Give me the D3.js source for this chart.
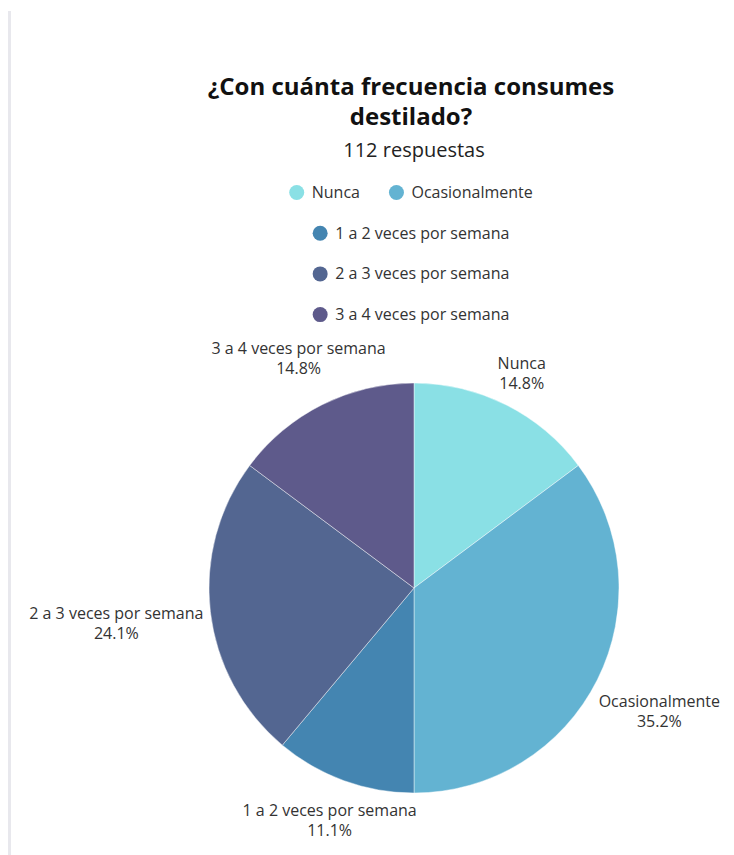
<!DOCTYPE html>
<html>
<head>
<meta charset="utf-8">
<script src="https://cdn.jsdelivr.net/npm/d3@7/dist/d3.min.js"></script>
<style>
  html, body { margin: 0; padding: 0; background: #fff; }
  svg { display: block; font-family: "Open Sans", "Noto Sans", sans-serif; }
</style>
</head>
<body>
<svg id="chart" width="734" height="855"></svg>
<script>
// Survey answers (share of responses, %)
const categories = [
  "Nunca",
  "Ocasionalmente",
  "1 a 2 veces por semana",
  "2 a 3 veces por semana",
  "3 a 4 veces por semana"
];
const values = [14.8, 35.2, 11.1, 24.1, 14.8];
const colors = ["#8ae0e5", "#63b3d2", "#4485b1", "#536691", "#5e5a8b"];
const titleLines = ["¿Con cuánta frecuencia consumes", "destilado?"];
const subtitle = "112 respuestas";

const W = 734, H = 855;
const cx = 414, cy = 588, R = 205;
const svg = d3.select("#chart");

// left card edge
svg.append("rect")
  .attr("x", 8).attr("y", 11).attr("width", 3).attr("height", H - 11)
  .attr("fill", "#e8e8ed");

// title block
const title = svg.append("text")
  .attr("text-anchor", "middle")
  .attr("font-size", 24).attr("font-weight", 700).attr("fill", "#111");
titleLines.forEach((t, i) => {
  title.append("tspan").attr("x", 411).attr("y", 95 + i * 30).text(t);
});
svg.append("text")
  .attr("x", 414).attr("y", 157)
  .attr("text-anchor", "middle")
  .attr("font-size", 20).attr("fill", "#222")
  .text(subtitle);

// legend, packed into centred rows
const color = d3.scaleOrdinal().domain(categories).range(colors);
const legendFont = 16, dotR = 7.5, dotGap = 15, itemGap = 29, maxRow = 320;
const measure = svg.append("text").attr("font-size", legendFont).attr("visibility", "hidden");
const items = categories.map(c => {
  measure.text(c);
  const tw = measure.node().getComputedTextLength();
  return { name: c, tw, w: dotR + dotGap + tw };
});
measure.remove();
const rows = [];
items.forEach(it => {
  const row = rows[rows.length - 1];
  if (row) {
    const w = d3.sum(row, d => d.w) + itemGap * row.length + it.w;
    if (w <= maxRow) { row.push(it); return; }
  }
  rows.push([it]);
});
const legend = svg.append("g");
rows.forEach((row, ri) => {
  const total = d3.sum(row, d => d.w) + itemGap * (row.length - 1);
  let x = 411 - total / 2;
  const y = 192.5 + ri * 40.7;
  row.forEach(it => {
    const g = legend.append("g");
    g.append("circle").attr("cx", x + dotR).attr("cy", y).attr("r", dotR)
      .attr("fill", color(it.name));
    g.append("text").attr("x", x + dotR + dotGap).attr("y", y + 5.5)
      .attr("font-size", legendFont).attr("fill", "#333").text(it.name);
    x += it.w + itemGap;
  });
});

// pie
const data = categories.map((c, i) => ({ name: c, value: values[i] }));
const pie = d3.pie().sort(null).value(d => d.value);
const arc = d3.arc().innerRadius(0).outerRadius(R);
const arcs = pie(data);
const g = svg.append("g").attr("transform", `translate(${cx},${cy})`);
g.selectAll("path").data(arcs).join("path")
  .attr("d", arc)
  .attr("fill", d => color(d.data.name))
  .attr("stroke", "rgba(255,255,255,0.55)")
  .attr("stroke-width", 0.8);

// outside labels: box centred on the mid-angle ray, nearest edge kept clear of the rim
const labelGap = 6, lineH = 20;
arcs.forEach(d => {
  const lbl = g.append("text")
    .attr("text-anchor", "middle")
    .attr("font-size", legendFont).attr("fill", "#333");
  lbl.append("tspan").attr("x", 0).attr("dy", 0).text(d.data.name);
  lbl.append("tspan").attr("x", 0).attr("dy", lineH).text(d.data.value.toFixed(1) + "%");
  const bb = lbl.node().getBBox();
  const ox = bb.x + bb.width / 2, oy = bb.y + bb.height / 2;
  const hw = bb.width / 2, hh = bb.height / 2;
  const a = (d.startAngle + d.endAngle) / 2;
  const ux = Math.sin(a), uy = -Math.cos(a);
  const distToBox = (px, py) => {
    const dx = Math.max(0, Math.abs(px) - hw);
    const dy = Math.max(0, Math.abs(py) - hh);
    return Math.hypot(dx, dy);
  };
  let lo = 0, hi = 600;
  for (let k = 0; k < 50; k++) {
    const mid = (lo + hi) / 2;
    if (distToBox(ux * mid, uy * mid) < R + labelGap) lo = mid; else hi = mid;
  }
  const px = ux * hi, py = uy * hi;
  lbl.attr("transform", `translate(${px - ox},${py - oy})`);
});
</script>
</body>
</html>
